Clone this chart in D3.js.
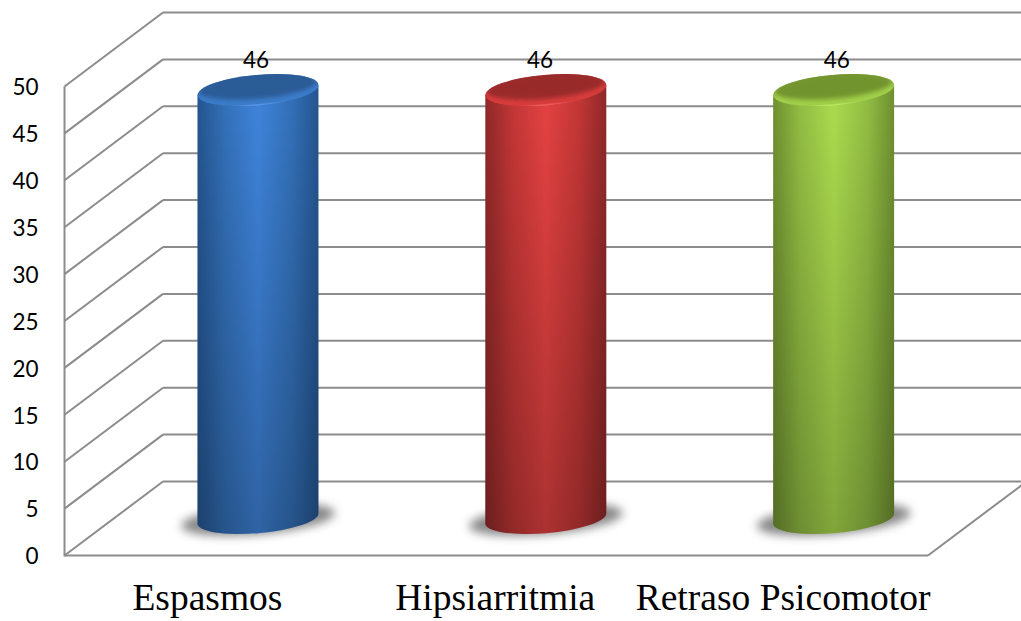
<!DOCTYPE html>
<html>
<head>
<meta charset="utf-8">
<script src="https://cdn.jsdelivr.net/npm/d3@7"></script>
<style>
  html, body { margin: 0; padding: 0; background: #fff; overflow: hidden; }
  .tick-label { font-family: Lato, sans-serif; font-size: 22.5px; fill: #000; }
  .cat-label { font-family: "Liberation Serif", serif; font-size: 37.5px; fill: #000; }
</style>
</head>
<body>
<div id="chart"></div>
<script>
// chart data
const categories = ["Espasmos", "Hipsiarritmia", "Retraso Psicomotor"];
const values = [46, 46, 46];
const yTicks = [0, 5, 10, 15, 20, 25, 30, 35, 40, 45, 50];

// colours per bar
const bodyLight = ["#3f84dc", "#e54242", "#acdc4e"];
const bodyMid = ["#3370b8", "#c23636", "#92bd43"];
const bodyEdge = ["#245590", "#8f2828", "#6f9030"];
const topDark = ["#2a5b96", "#992a2a", "#72942f"];
const topRim = ["#3c7cca", "#d83c3c", "#a0cf49"];
const rimLine = ["#62a0ec", "#f46a6a", "#c6ec70"];

const width = 1021, height = 621;
const depthX = 98.5, depthY = 74;   // 3d offset of the back wall
const labelShift = [47.6, 43.8, 52.7];   // value labels are not quite centred on the bars

const svg = d3.select("#chart").append("svg")
    .attr("width", width)
    .attr("height", height)
    .style("display", "block");

const x = d3.scaleBand().domain(categories).range([64.5, 928]);
const y = d3.scaleLinear().domain([0, 50]).range([555.5, 86.5]);

// cylinder shape
const rx = 60.7, ry = 14.6, tilt = -5;
const tiltRad = tilt * Math.PI / 180;
const xExt = Math.sqrt(rx * rx * Math.cos(tiltRad) ** 2 + ry * ry * Math.sin(tiltRad) ** 2);
const yAtExt = (rx * rx - ry * ry) * Math.sin(tiltRad) * Math.cos(tiltRad) / xExt;
const baseY = y(0) - depthY / 2;
const barK = 0.993;   // cylinders come out a touch shorter than the wall scale

const defs = svg.append("defs");
defs.append("filter").attr("id", "blur-shadow")
    .attr("x", "-30%").attr("y", "-60%").attr("width", "160%").attr("height", "220%")
  .append("feGaussianBlur").attr("stdDeviation", 5);
defs.append("filter").attr("id", "blur-top")
    .attr("x", "-20%").attr("y", "-40%").attr("width", "140%").attr("height", "180%")
  .append("feGaussianBlur").attr("stdDeviation", 2.2);
defs.append("clipPath").attr("id", "cap-clip")
  .append("ellipse").attr("rx", rx).attr("ry", ry + 0.6);

categories.forEach((c, i) => {
  const body = defs.append("linearGradient").attr("id", "body" + i);
  [[0, bodyEdge[i]], [0.22, bodyMid[i]], [0.5, bodyLight[i]], [0.78, bodyMid[i]], [1, bodyEdge[i]]].forEach(s =>
    body.append("stop").attr("offset", s[0]).attr("stop-color", s[1]));
  const rim = defs.append("linearGradient").attr("id", "rim" + i)
      .attr("x1", 0).attr("x2", 0).attr("y1", 0).attr("y2", 1);
  [[0, topDark[i]], [0.6, topRim[i]], [0.94, topRim[i]], [1, rimLine[i]]].forEach(s =>
    rim.append("stop").attr("offset", s[0]).attr("stop-color", s[1]));
});
const shade = defs.append("linearGradient").attr("id", "shade")
    .attr("x1", 0).attr("x2", 0).attr("y1", 0).attr("y2", 1);
shade.append("stop").attr("offset", 0).attr("stop-color", "#000").attr("stop-opacity", 0);
shade.append("stop").attr("offset", 0.1).attr("stop-color", "#000").attr("stop-opacity", 0.02);
shade.append("stop").attr("offset", 1).attr("stop-color", "#000").attr("stop-opacity", 0.25);

// walls and gridlines
const gridColor = "#8c8c8c";
const walls = svg.append("g").attr("fill", "none").attr("stroke", gridColor).attr("stroke-width", 2);

walls.selectAll(".back").data(yTicks).join("line")
    .attr("class", "back")
    .attr("x1", 64.5 + depthX).attr("x2", width)
    .attr("y1", d => y(d) - depthY).attr("y2", d => y(d) - depthY);
walls.selectAll(".side").data(yTicks).join("line")
    .attr("class", "side")
    .attr("x1", 64.5).attr("x2", 64.5 + depthX)
    .attr("y1", d => y(d)).attr("y2", d => y(d) - depthY);
walls.append("line")
    .attr("x1", 64.5).attr("x2", 64.5)
    .attr("y1", y(50)).attr("y2", y(0) + 1);
walls.append("line")
    .attr("x1", 64.5).attr("x2", 928)
    .attr("y1", y(0)).attr("y2", y(0));
walls.append("line")
    .attr("x1", 928).attr("x2", 928 + depthX)
    .attr("y1", y(0)).attr("y2", y(0) - depthY);

// axes
const yAxis = d3.axisLeft(y).tickValues(yTicks).tickSize(0).tickPadding(26);
const yG = svg.append("g").attr("transform", "translate(64.5,1)").call(yAxis);
yG.select(".domain").remove();
yG.selectAll("text").attr("class", "tick-label").attr("font-size", null).attr("font-family", null);

const xAxis = d3.axisBottom(x).tickSize(0).tickPadding(0);
const xG = svg.append("g").attr("transform", "translate(0,580)").call(xAxis);
xG.select(".domain").remove();
xG.selectAll("text").attr("class", "cat-label").attr("font-size", null).attr("font-family", null)
    .attr("dy", "0.8em").attr("dx", -1);

// cylinders
const bars = svg.selectAll(".bar").data(categories).join("g")
    .attr("class", "bar")
    .attr("transform", c => `translate(${x(c) + x.bandwidth() / 2 + depthX / 2 + 0.3},${baseY})`);

// floor shadow
bars.append("ellipse")
    .attr("cx", 0).attr("cy", 1)
    .attr("rx", 77).attr("ry", 15)
    .attr("transform", `rotate(${tilt})`)
    .attr("fill", "#5a5a5a")
    .attr("opacity", 0.72)
    .attr("filter", "url(#blur-shadow)");

const bodyPath = (c, i) => {
  const h = (y(0) - y(values[i])) * barK;
  return `M${-xExt},${-h - yAtExt}` +
    `L${-xExt},${-yAtExt}` +
    `A${rx},${ry} ${tilt} 0 0 ${xExt},${yAtExt}` +
    `L${xExt},${-h + yAtExt}Z`;
};
bars.append("path").attr("d", bodyPath).attr("fill", (c, i) => `url(#body${i})`);
bars.append("path").attr("d", bodyPath).attr("fill", "url(#shade)");

// top cap: lit rim with a darker inset face
const topG = bars.append("g")
    .attr("transform", (c, i) => `translate(0,${-(y(0) - y(values[i])) * barK}) rotate(${tilt})`);
topG.append("ellipse")
    .attr("rx", rx).attr("ry", ry + 0.6)
    .attr("fill", (c, i) => `url(#rim${i})`);
topG.append("g").attr("clip-path", "url(#cap-clip)")
  .append("ellipse")
    .attr("cy", -3.4).attr("rx", rx - 2.5).attr("ry", ry - 2.6)
    .attr("fill", (c, i) => topDark[i])
    .attr("filter", "url(#blur-top)");

// value labels
svg.selectAll(".val").data(values).join("text")
    .attr("class", "tick-label val")
    .attr("text-anchor", "middle")
    .attr("x", (d, i) => x(categories[i]) + x.bandwidth() / 2 + labelShift[i])
    .attr("y", 68)
    .text(d => d);
</script>
</body>
</html>
